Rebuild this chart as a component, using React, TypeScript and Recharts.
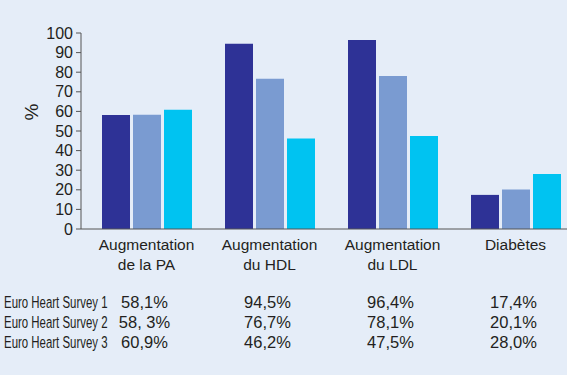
import { BarChart, Bar, XAxis, YAxis } from "recharts";

const CATEGORIES = [
  ["Augmentation", "de la PA"],
  ["Augmentation", "du HDL"],
  ["Augmentation", "du LDL"],
  ["Diabètes"],
];

const SURVEY_NAMES = ["Euro Heart Survey 1", "Euro Heart Survey 2", "Euro Heart Survey 3"];

const SURVEY1 = [58.1, 94.5, 96.4, 17.4];
const SURVEY2 = [58.3, 76.7, 78.1, 20.1];
const SURVEY3 = [60.9, 46.2, 47.5, 28.0];

// table text as printed under the chart
const SURVEY1_TEXT = ["58,1%", "94,5%", "96,4%", "17,4%"];
const SURVEY2_TEXT = ["58, 3%", "76,7%", "78,1%", "20,1%"];
const SURVEY3_TEXT = ["60,9%", "46,2%", "47,5%", "28,0%"];

const Y_TICKS = [0, 10, 20, 30, 40, 50, 60, 70, 80, 90, 100];

const COLORS = ["#2e3296", "#7a9bd1", "#00c3f1"];
const BG = "#e5edf8";
const TEXT = "#231f20";
const FONT = "'Liberation Sans', Arial, Helvetica, sans-serif";

const data = CATEGORIES.map((c, i) => ({
  key: String(i),
  s1: SURVEY1[i],
  s2: SURVEY2[i],
  s3: SURVEY3[i],
}));

const TABLE_ROWS = [SURVEY1_TEXT, SURVEY2_TEXT, SURVEY3_TEXT];

/* ===== Category label + table column ===== */
function CategoryTick({ x, y, payload, index }: any) {
  const i = Number(payload.value);
  const lines = CATEGORIES[i];
  return (
    <g>
      {lines.map((line, k) => (
        <text
          key={k}
          x={x}
          y={y + 21 + k * 20}
          textAnchor="middle"
          fontSize={15.5}
          fontFamily={FONT}
          fill={TEXT}
        >
          {line}
        </text>
      ))}
      {TABLE_ROWS.map((row, r) => (
        <text
          key={"v" + r}
          x={x - 2}
          y={y + 79 + r * 20}
          textAnchor="middle"
          fontSize={16.5}
          fontFamily={FONT}
          fill={TEXT}
        >
          {row[i]}
        </text>
      ))}
      {index === 0 &&
        SURVEY_NAMES.map((name, r) => (
          <text
            key={"n" + r}
            transform={`translate(4 ${y + 79 + r * 20}) scale(0.66 1)`}
            fontSize={16.5}
            fontFamily={FONT}
            fill={TEXT}
            textLength={157}
            lengthAdjust="spacingAndGlyphs"
          >
            {name}
          </text>
        ))}
    </g>
  );
}

export default function App() {
  return (
    <div
      style={{
        position: "absolute",
        left: 0,
        top: 0,
        width: 567,
        height: 375,
        background: BG,
        overflow: "hidden",
      }}
    >
      <BarChart
        width={567}
        height={375}
        data={data}
        margin={{ top: 33, right: -10, left: 21, bottom: 6 }}
        barSize={28}
        barGap={3}
      >
        <XAxis
          dataKey="key"
          height={140}
          tickLine={false}
          tickSize={0}
          tickMargin={0}
          axisLine={{ stroke: "#555" }}
          padding={{ left: 4, right: 0 }}
          tick={<CategoryTick />}
          interval={0}
        />
        <YAxis
          width={60}
          domain={[0, 100]}
          ticks={Y_TICKS}
          interval={0}
          tickSize={5}
          tickMargin={3}
          axisLine={{ stroke: "#555" }}
          tickLine={{ stroke: "#555" }}
          tick={{ fontSize: 16, fontFamily: FONT, fill: TEXT }}
          label={{
            content: () => (
              <text
                x={31}
                y={112}
                transform="rotate(-90 31 112)"
                textAnchor="middle"
                dominantBaseline="central"
                fontSize={19}
                fontFamily={FONT}
                fill={TEXT}
              >
                %
              </text>
            ),
          }}
        />
        <Bar dataKey="s1" fill={COLORS[0]} isAnimationActive={false} />
        <Bar dataKey="s2" fill={COLORS[1]} isAnimationActive={false} />
        <Bar dataKey="s3" fill={COLORS[2]} isAnimationActive={false} />
      </BarChart>
    </div>
  );
}
